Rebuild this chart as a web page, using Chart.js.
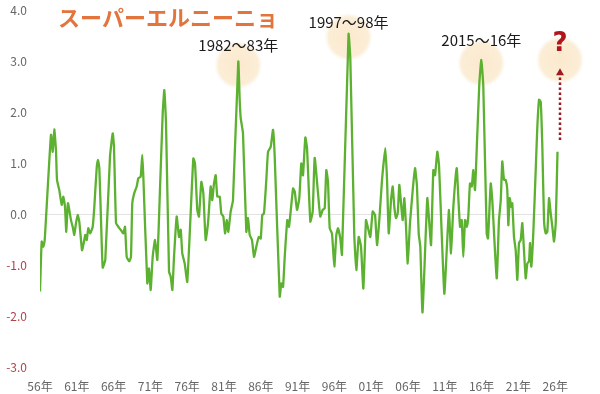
<!DOCTYPE html>
<html>
<head>
<meta charset="utf-8">
<script src="https://cdn.jsdelivr.net/npm/chart.js@4"></script>
<style>
  html, body { margin: 0; padding: 0; background: #fff; }
  #wrap { width: 600px; height: 394px; position: relative; }
</style>
</head>
<body>
<div id="wrap"><canvas id="ninoChart"></canvas></div>
<script>
// === DATA: sea temperature deviation ===
const dates = [
  1956.00, 1956.23, 1956.45, 1956.64, 1957.49, 1957.73, 1957.94, 1958.17, 1958.31, 1958.62,
  1958.95, 1959.17, 1959.40, 1959.57, 1959.80, 1960.21, 1960.44, 1960.66, 1960.89, 1961.12,
  1961.34, 1961.71, 1961.94, 1962.15, 1962.35, 1962.56, 1962.83, 1963.16, 1963.38, 1963.70,
  1963.88, 1964.06, 1964.29, 1964.52, 1964.87, 1965.51, 1965.88, 1966.05, 1966.33, 1966.64,
  1966.96, 1967.32, 1967.55, 1967.78, 1968.13, 1968.36, 1968.54, 1968.81, 1969.14, 1969.36,
  1969.68, 1969.90, 1970.04, 1970.58, 1970.81, 1971.04, 1971.31, 1971.63, 1971.94, 1972.30,
  1972.67, 1972.89, 1973.12, 1973.53, 1973.76, 1973.98, 1974.21, 1974.57, 1974.89, 1975.12,
  1975.33, 1975.66, 1976.01, 1976.83, 1977.06, 1977.37, 1977.60, 1977.92, 1978.19, 1978.51,
  1978.83, 1979.19, 1979.41, 1979.64, 1979.87, 1980.09, 1980.42, 1980.63, 1980.91, 1981.14,
  1981.37, 1981.58, 1981.91, 1982.22, 1982.94, 1983.13, 1983.27, 1983.58, 1984.03, 1984.26,
  1984.49, 1984.80, 1985.08, 1985.39, 1985.72, 1985.99, 1986.20, 1986.43, 1986.75, 1986.98,
  1987.35, 1987.66, 1987.89, 1988.57, 1988.79, 1989.02, 1989.25, 1989.60, 1989.83, 1990.38,
  1990.61, 1990.92, 1991.23, 1991.50, 1991.73, 1992.05, 1992.28, 1992.73, 1993.05, 1993.32,
  1993.77, 1994.08, 1994.41, 1994.68, 1994.90, 1995.13, 1995.36, 1995.67, 1995.99, 1996.26,
  1996.49, 1996.80, 1997.03, 1997.92, 1998.16, 1998.70, 1998.98, 1999.30, 1999.61, 1999.93,
  2000.29, 2000.52, 2000.88, 2001.20, 2001.52, 2001.79, 2002.10, 2002.47, 2002.92, 2003.15,
  2003.38, 2003.69, 2003.92, 2004.14, 2004.37, 2004.60, 2004.82, 2005.05, 2005.28, 2005.50,
  2005.73, 2005.96, 2006.27, 2006.64, 2006.95, 2007.22, 2007.45, 2007.67, 2007.97, 2008.62,
  2008.89, 2009.13, 2009.44, 2009.67, 2009.98, 2010.21, 2010.93, 2011.26, 2011.57, 2011.84,
  2012.16, 2012.62, 2012.83, 2013.07, 2013.30, 2013.51, 2013.75, 2013.98, 2014.19, 2014.42,
  2014.66, 2014.87, 2015.10, 2015.33, 2015.69, 2015.96, 2016.23, 2016.69, 2016.87, 2017.24,
  2017.45, 2018.05, 2018.36, 2018.60, 2018.81, 2019.04, 2019.27, 2019.49, 2019.63, 2019.82,
  2020.04, 2020.17, 2020.40, 2020.63, 2020.85, 2021.08, 2021.31, 2021.53, 2021.99, 2022.21,
  2022.44, 2022.58, 2022.75, 2023.02, 2023.35, 2023.57, 2023.80, 2024.03, 2024.25, 2024.48,
  2024.71, 2024.93, 2025.16, 2025.39, 2025.61, 2025.84, 2026.07, 2026.31
];
const values = [
  -1.52, -0.54, -0.64, -0.51, 1.55, 1.22, 1.66, 1.25, 0.67, 0.47,
  0.18, 0.34, 0.14, -0.35, 0.21, -0.12, -0.25, -0.41, -0.18, -0.02,
  -0.15, -0.71, -0.57, -0.41, -0.51, -0.28, -0.38, -0.25, 0.14, 0.90,
  1.06, 0.90, -0.12, -1.05, -0.90, 1.12, 1.58, 1.32, -0.18, -0.25,
  -0.31, -0.38, -0.25, -0.84, -0.93, -0.84, 0.21, 0.41, 0.54, 0.70,
  0.73, 1.16, 0.73, -1.36, -1.07, -1.49, -0.84, -0.51, -0.90, 0.47,
  1.97, 2.43, 1.78, -1.13, -1.23, -1.49, -0.84, -0.05, -0.45, -0.31,
  -0.77, -0.97, -1.33, 1.09, 0.99, 0.08, -0.05, 0.63, 0.41, -0.51,
  -0.18, 0.54, 0.27, 0.60, 0.76, 0.34, 0.34, 0.01, -0.05, -0.38,
  -0.12, -0.35, 0.05, 0.27, 2.99, 2.24, 1.88, 1.58, -0.35, -0.08,
  -0.41, -0.51, -0.84, -0.64, -0.45, -0.48, -0.02, 0.01, 0.67, 1.22,
  1.32, 1.65, 1.12, -1.62, -1.36, -1.43, -0.84, -0.12, -0.25, 0.50,
  0.44, 0.08, 0.31, 0.99, 0.76, 1.50, 1.29, -0.15, 0.05, 1.10,
  0.41, -0.05, 0.08, 0.11, 0.86, 0.63, -0.28, -0.38, -1.03, -0.41,
  -0.28, -0.48, -0.80, 3.53, 3.05, -0.41, -1.10, -0.45, -0.63, -1.46,
  -0.12, -0.25, -0.45, 0.05, -0.02, -0.61, -0.12, 0.67, 1.29, 0.67,
  -0.38, 0.27, 0.54, 0.14, -0.08, 0.01, 0.57, 0.21, -0.12, 0.31,
  -0.25, -0.97, -0.18, 0.47, 0.90, 0.54, -0.38, -0.64, -1.93, 0.31,
  -0.18, -0.61, 0.86, 0.76, 1.22, 0.96, -1.56, -0.71, 0.08, -0.77,
  0.14, 0.90, 0.34, -0.25, -0.12, -0.84, -0.12, -0.25, -0.05, 0.60,
  0.54, 0.86, 0.47, 1.25, 2.56, 3.02, 2.50, -0.38, -0.48, 0.60,
  0.27, -1.26, -0.12, 0.27, 1.03, 0.67, 0.67, 0.47, -0.22, 0.31,
  0.14, 0.21, -0.45, -0.71, -1.29, -0.57, -0.51, -0.18, -1.26, -0.97,
  -0.93, -0.57, -1.03, -0.38, 0.86, 1.71, 2.24, 2.20, 1.32, -0.12,
  -0.38, -0.35, 0.31, 0.01, -0.25, -0.54, -0.18, 1.22
];

// === Axis ticks ===
const tickYears = [1956, 1961, 1966, 1971, 1976, 1981, 1986, 1991, 1996, 2001, 2006, 2011, 2016, 2021, 2026];
const yTicks = [-3, -2, -1, 0, 1, 2, 3, 4];

// === Annotations ===
const chartTitle = "スーパーエルニーニョ";
const peakLabels = ["1982～83年", "1997～98年", "2015～16年"];
const peakYears = [1982.94, 1997.92, 2015.96];
const peakCircleValues = [2.92, 3.47, 2.96];
const peakLabelValues = [3.31, 3.76, 3.41];
const nextYear = 2026.65;
const nextCircleValue = 3.02;
const nextMarkValue = 3.33;
const arrowFrom = 1.45;
const arrowTo = 2.86;

// === Plugin: peak circles behind line ===
const circlesPlugin = {
  id: "circles",
  beforeDatasetsDraw(chart) {
    const { ctx, scales: { x, y } } = chart;
    const centers = peakYears.map((yr, i) => [yr, peakCircleValues[i]]);
    centers.push([nextYear, nextCircleValue]);
    ctx.save();
    centers.forEach(([yr, v]) => {
      const cx = x.getPixelForValue(yr);
      const cy = y.getPixelForValue(v);
      const g = ctx.createRadialGradient(cx, cy, 0, cx, cy, 24);
      g.addColorStop(0, "rgba(251,232,203,0.95)");
      g.addColorStop(0.82, "rgba(251,234,207,0.85)");
      g.addColorStop(1, "rgba(251,236,212,0)");
      ctx.fillStyle = g;
      ctx.beginPath();
      ctx.arc(cx, cy, 24, 0, Math.PI * 2);
      ctx.fill();
    });
    ctx.restore();
  }
};

// === Plugin: texts, question mark, dotted arrow ===
const labelsPlugin = {
  id: "labels",
  afterDatasetsDraw(chart) {
    const { ctx, scales: { x, y } } = chart;
    ctx.save();

    // title
    ctx.font = "bold 22px 'Noto Sans CJK JP'";
    ctx.fillStyle = "#e2743c";
    ctx.textAlign = "left";
    ctx.textBaseline = "middle";
    ctx.fillText(chartTitle, 58, 18);

    // peak labels
    ctx.font = "15px 'Noto Sans CJK JP'";
    ctx.fillStyle = "#1a1a1a";
    ctx.textAlign = "center";
    peakLabels.forEach((t, i) => {
      ctx.fillText(t, x.getPixelForValue(peakYears[i]), y.getPixelForValue(peakLabelValues[i]));
    });

    // question mark
    const qx = x.getPixelForValue(nextYear);
    ctx.font = "bold 26px 'DejaVu Sans'";
    ctx.fillStyle = "#b0141c";
    ctx.fillText("?", qx, y.getPixelForValue(nextMarkValue));

    // dotted arrow
    const ay0 = y.getPixelForValue(arrowFrom);
    const ay1 = y.getPixelForValue(arrowTo);
    ctx.strokeStyle = "#9c1a22";
    ctx.lineWidth = 2.5;
    ctx.setLineDash([2.5, 2.5]);
    ctx.beginPath();
    ctx.moveTo(qx, ay0);
    ctx.lineTo(qx, ay1 + 5);
    ctx.stroke();
    ctx.setLineDash([]);
    ctx.fillStyle = "#9c1a22";
    ctx.beginPath();
    ctx.moveTo(qx, ay1);
    ctx.lineTo(qx - 4, ay1 + 7);
    ctx.lineTo(qx + 4, ay1 + 7);
    ctx.closePath();
    ctx.fill();

    ctx.restore();
  }
};

// === Chart ===
const ctx = document.getElementById("ninoChart").getContext("2d");
new Chart(ctx, {
  type: "line",
  data: {
    datasets: [{
      data: dates.map((d, i) => ({ x: d, y: values[i] })),
      borderColor: "#5cb130",
      borderWidth: 2.3,
      pointRadius: 0,
      tension: 0.15,
      fill: false
    }]
  },
  options: {
    responsive: true,
    maintainAspectRatio: false,
    animation: false,
    layout: { padding: { left: 0, right: 40, top: 10, bottom: 0 } },
    plugins: {
      legend: { display: false },
      tooltip: { enabled: false }
    },
    scales: {
      x: {
        type: "linear",
        min: 1956,
        max: nextYear,
        afterBuildTicks: (axis) => { axis.ticks = tickYears.map(v => ({ value: v })); },
        afterFit: (axis) => { axis.height = 27; },
        grid: { display: false, drawTicks: false },
        border: { display: false },
        ticks: {
          padding: 12,
          maxRotation: 0,
          autoSkip: false,
          color: "#666",
          font: { size: 12, family: "'Noto Sans CJK JP'" },
          callback: (v) => String(v % 100).padStart(2, "0") + "年"
        }
      },
      y: {
        min: -3,
        max: 4,
        afterBuildTicks: (axis) => { axis.ticks = yTicks.map(v => ({ value: v })); },
        afterFit: (axis) => {
          axis.width = 40;
          axis.paddingTop = 0;
          axis.paddingBottom = 0;
        },
        grid: {
          drawTicks: false,
          color: (c) => (c.tick && c.tick.value === 0 ? "#e2e2e2" : "rgba(0,0,0,0)")
        },
        border: { display: false },
        ticks: {
          padding: 13,
          color: (c) => (c.tick && c.tick.value < 0 ? "#b2404c" : "#666"),
          font: { size: 12, family: "'Noto Sans CJK JP'" },
          callback: (v) => v.toFixed(1)
        }
      }
    }
  },
  plugins: [circlesPlugin, labelsPlugin]
});
</script>
</body>
</html>
